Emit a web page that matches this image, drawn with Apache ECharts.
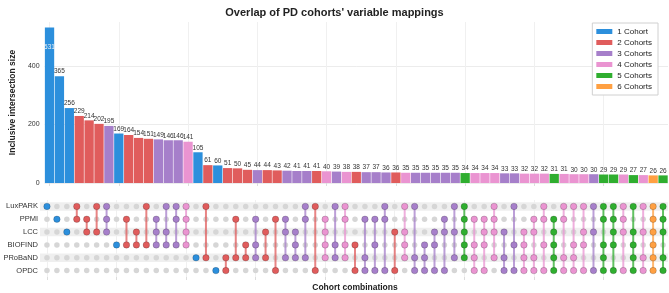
<!DOCTYPE html>
<html>
<head>
<meta charset="utf-8">
<script src="https://cdn.jsdelivr.net/npm/echarts@6/dist/echarts.min.js"></script>
<style>
  html, body { margin: 0; padding: 0; background: #fff; }
  #chart { width: 669px; height: 293px; }
</style>
</head>
<body>
<div id="chart"></div>
<script>
// cohorts (matrix rows) and the one-letter code used in combos
var cohorts = ['LuxPARK', 'PPMI', 'LCC', 'BIOFIND', 'PRoBaND', 'OPDC'];
var codes = ['L', 'P', 'C', 'B', 'R', 'O'];

// intersections, in plotted order
var combos = ['L','P','C','LP','PC','LC','LPC','B','PB','CB','LB','PCB','LCB','LPB','LPCB',
  'R','LR','O','RO','PR','BR','PBR','CR','PO','PCR','CBR','LPR','LO','PCBR','LBR','LPBR',
  'BO','PRO','PBO','LPO','CO','LCBR','LRO','BRO','CBO','PCO','LCR','LPCBR','PBRO','PCBO',
  'LPCR','CRO','LBO','CBRO','PCRO','LPBO','PCBRO','LPRO','LBRO','LCBO','LCO','LPBRO',
  'LPCBO','LPCO','LCBRO','LCRO','LPCBRO','LPCRO'];
var sizes = [531,365,256,229,214,202,195,169,164,154,151,149,146,146,141,105,61,60,51,50,
  45,44,44,43,42,41,41,41,40,39,38,38,37,37,36,36,35,35,35,35,35,35,34,34,34,34,33,33,
  32,32,32,31,31,30,30,30,29,29,29,27,27,26,26];

var degreeNames = ['1 Cohort', '2 Cohorts', '3 Cohorts', '4 Cohorts', '5 Cohorts', '6 Cohorts'];
var degreeColors = ['#2c8fdc', '#e05c5c', '#a67fca', '#ea94d1', '#2fae2f', '#ffa042'];
var bandRows = [0, 2, 4];

var font = 'Liberation Sans, Arial, sans-serif';

var series = [];

// bars, one series per degree so the legend works
degreeNames.forEach(function (name, k) {
    var d = k + 1;
    series.push({
        name: name,
        type: 'bar',
        xAxisIndex: 0,
        yAxisIndex: 0,
        barGap: '-100%',
        barCategoryGap: '6%',
        itemStyle: { color: degreeColors[k] },
        label: { show: true, position: 'top', distance: 1, fontSize: 6.5, color: '#333', fontFamily: font },
        data: sizes.map(function (v, i) {
            if (combos[i].length !== d) return '-';
            if (i === 0) return { value: v, label: { position: 'insideTop', distance: 16, color: '#f2f2f2' } };
            return v;
        })
    });
});

// grey bands behind every other matrix row
series.push({
    type: 'custom',
    xAxisIndex: 1,
    yAxisIndex: 1,
    z: 0,
    silent: true,
    renderItem: function (params, api) {
        var pt = api.coord([0, api.value(1)]);
        var h = api.size([0, 1])[1];
        return {
            type: 'rect',
            shape: { x: params.coordSys.x - 2, y: pt[1] - h * 0.33, width: params.coordSys.width + 2, height: h * 0.66 },
            style: { fill: '#efefef' }
        };
    },
    data: bandRows.map(function (r) { return [0, r]; })
});

// inactive dots
var offDots = [];
combos.forEach(function (c, i) {
    codes.forEach(function (ch, r) {
        if (c.indexOf(ch) < 0) offDots.push([i, r]);
    });
});
series.push({
    type: 'scatter',
    xAxisIndex: 1,
    yAxisIndex: 1,
    z: 3,
    symbolSize: 5.5,
    itemStyle: { color: '#d6d6d6', opacity: 1 },
    data: offDots
});

// connecting lines, one small line series per combination
combos.forEach(function (c, i) {
    var rows = c.split('').map(function (ch) { return codes.indexOf(ch); });
    var lo = Math.min.apply(null, rows), hi = Math.max.apply(null, rows);
    if (hi === lo) return;
    series.push({
        type: 'line',
        xAxisIndex: 1,
        yAxisIndex: 1,
        z: 4,
        silent: true,
        symbol: 'none',
        lineStyle: { color: degreeColors[c.length - 1], width: 2, opacity: 0.75 },
        data: [[i, lo], [i, hi]]
    });
});

// active dots per degree
degreeNames.forEach(function (name, k) {
    var pts = [];
    combos.forEach(function (c, i) {
        if (c.length !== k + 1) return;
        c.split('').forEach(function (ch) { pts.push([i, codes.indexOf(ch)]); });
    });
    series.push({
        name: 'dots' + (k + 1),
        type: 'scatter',
        xAxisIndex: 1,
        yAxisIndex: 1,
        z: 5,
        symbolSize: 6.5,
        itemStyle: { color: degreeColors[k], borderColor: 'rgba(0,0,0,0.3)', borderWidth: 0.6, opacity: 1 },
        data: pts
    });
});

var option = {
    animation: false,
    textStyle: { fontFamily: font },
    title: {
        text: "Overlap of PD cohorts' variable mappings",
        left: 'center',
        top: 2,
        textStyle: { fontSize: 11, fontWeight: 'bold', color: '#222', fontFamily: font }
    },
    legend: {
        data: degreeNames,
        orient: 'vertical',
        right: 11,
        top: 23,
        icon: 'rect',
        itemWidth: 16,
        itemHeight: 5,
        itemGap: 2,
        padding: [4, 6, 4, 4],
        borderColor: '#d0d0d0',
        borderWidth: 1,
        backgroundColor: '#fff',
        textStyle: { fontSize: 8, color: '#222', fontFamily: font, lineHeight: 9 }
    },
    grid: [
        { left: 42, width: 626, top: 22, bottom: 110 },
        { left: 42, width: 626, top: 200, bottom: 11 }
    ],
    xAxis: [
        {
            type: 'category',
            gridIndex: 0,
            data: combos,
            axisLine: { show: false },
            axisTick: { show: true, alignWithLabel: true, length: 3, lineStyle: { color: '#ddd' } },
            axisLabel: { show: false },
            splitLine: { show: true, alignWithLabel: true, lineStyle: { color: '#f0f0f0', width: 1 } }
        },
        {
            type: 'category',
            gridIndex: 1,
            data: combos,
            axisLine: { show: false },
            axisTick: { show: true, alignWithLabel: true, length: 3, lineStyle: { color: '#ddd' } },
            axisLabel: { show: false },
            splitLine: { show: true, alignWithLabel: true, lineStyle: { color: '#f0f0f0', width: 1 } },
            name: 'Cohort combinations',
            nameLocation: 'middle',
            nameGap: 6,
            nameTextStyle: { fontSize: 8.5, fontWeight: 'bold', color: '#222', fontFamily: font }
        }
    ],
    yAxis: [
        {
            type: 'value',
            gridIndex: 0,
            min: 0,
            max: 550,
            interval: 200,
            axisLine: { show: false },
            axisTick: { show: false },
            axisLabel: {
                fontSize: 7, color: '#333', margin: 5, showMaxLabel: false,
                formatter: function (v) { return v % 200 === 0 ? v : ''; }
            },
            splitLine: { show: true, showMaxLine: false, lineStyle: { color: '#ececec' } },
            name: 'Inclusive intersection size',
            nameLocation: 'middle',
            nameGap: 27,
            nameTextStyle: { fontSize: 8.5, fontWeight: 'bold', color: '#222', fontFamily: font }
        },
        {
            type: 'category',
            gridIndex: 1,
            data: cohorts,
            inverse: true,
            axisLine: { show: false },
            axisTick: { show: false },
            axisLabel: { fontSize: 7.5, color: '#333', margin: 4 },
            splitLine: { show: false }
        }
    ],
    series: series
};

var myChart = echarts.init(document.getElementById('chart'));
myChart.setOption(option);
</script>
</body>
</html>
